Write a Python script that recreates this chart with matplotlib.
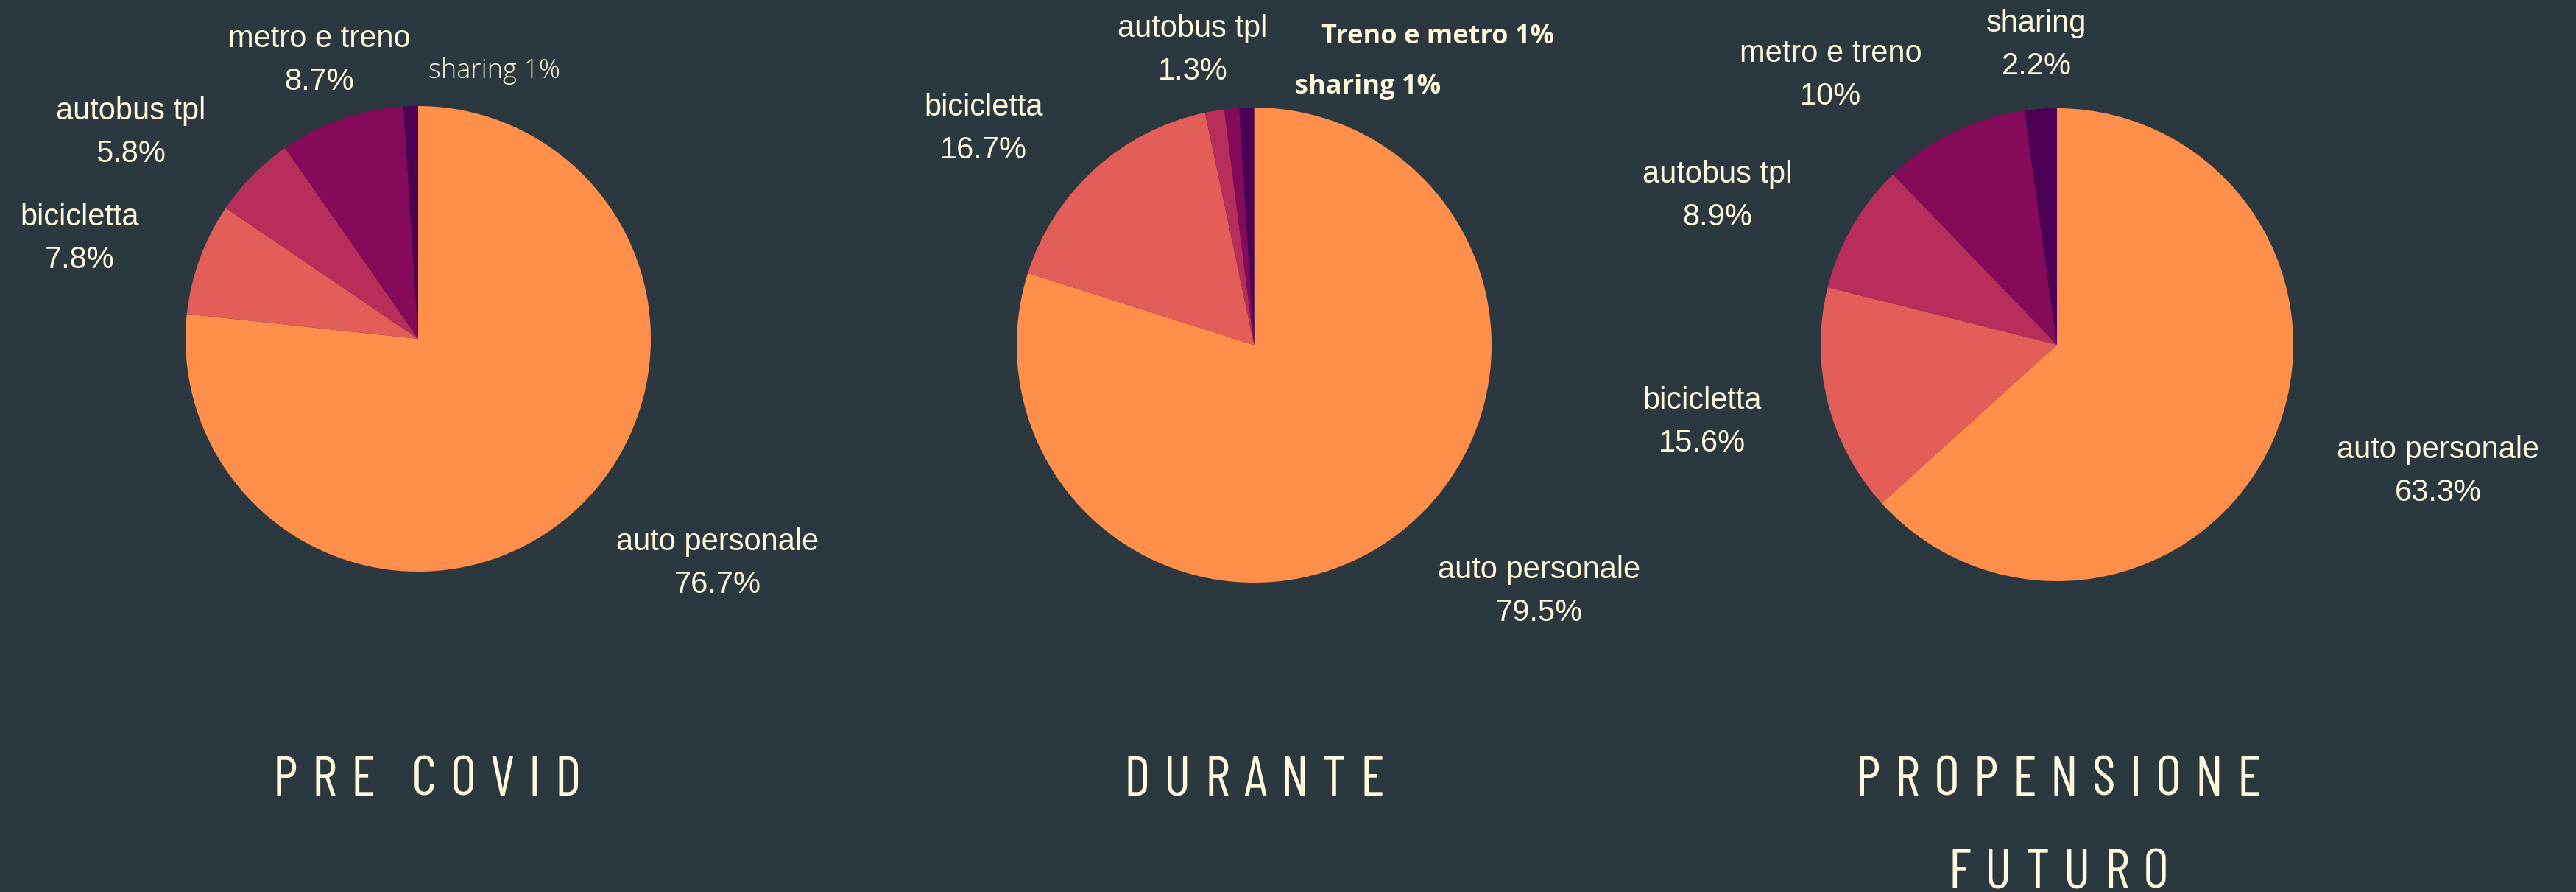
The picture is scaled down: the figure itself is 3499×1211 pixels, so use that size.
import matplotlib
matplotlib.use("Agg")
import matplotlib.pyplot as plt

# ---------------- data ----------------
categories = ["auto personale", "bicicletta", "autobus tpl", "metro e treno", "sharing"]
pre_covid = [76.7, 7.8, 5.8, 8.7, 1.0]
durante = [79.5, 16.7, 1.3, 1.0, 1.0]
futuro = [63.3, 15.6, 8.9, 10.0, 2.2]
titles = [["PRE COVID"], ["DURANTE"], ["PROPENSIONE", "FUTURO"]]

colors = ["#FF8F4A", "#E35E58", "#B82E5B", "#850A5A", "#4B0055"]
BG = "#2B3840"
TXT = "#FFF8DA"

W, H = 3499, 1211
fig = plt.figure(figsize=(W / 100, H / 100), dpi=100, facecolor=BG)
ax = fig.add_axes([0, 0, 1, 1])
ax.set_facecolor(BG)

def Y(y):
    return H - y

pies = [
    (pre_covid, (568, 460), 316),
    (durante, (1703.5, 468.5), 322.5),
    (futuro, (2794, 468), 321),
]
for vals, (cx, cy), r in pies:
    ax.pie(vals, colors=colors, startangle=90, counterclock=False,
           center=(cx, Y(cy)), radius=r, frame=True,
           wedgeprops=dict(linewidth=0))
ax.set_xlim(0, W)
ax.set_ylim(0, H)
ax.set_aspect("equal")
ax.axis("off")

LABFAM = ["Liberation Sans", "DejaVu Sans"]
LABSIZE = 30
GAP = 58

def label(name, pct, x, ybase):
    ax.text(x, Y(ybase), name, ha="center", va="baseline", color=TXT,
            fontsize=LABSIZE, family=LABFAM)
    ax.text(x, Y(ybase + GAP), pct, ha="center", va="baseline", color=TXT,
            fontsize=LABSIZE, family=LABFAM)

def fmt(v):
    return ("%g" % v) + "%"

# pie 1 (pre covid)
label(categories[3], fmt(pre_covid[3]), 434, 64)
label(categories[2], fmt(pre_covid[2]), 178, 162)
label(categories[1], fmt(pre_covid[1]), 108, 306)
label(categories[0], fmt(pre_covid[0]), 975, 747)
ax.text(671, Y(106), "sharing " + fmt(pre_covid[4]), ha="center", va="baseline",
        color=TXT, fontsize=26, family=["Open Sans", "DejaVu Sans"], fontweight="light")
# pie 2 (durante)
label(categories[2], fmt(durante[2]), 1620, 50)
label(categories[1], fmt(durante[1]), 1336, 157)
label(categories[0], fmt(durante[0]), 2091, 785)
ax.text(1953, Y(59), "Treno e metro " + fmt(durante[3]), ha="center", va="baseline",
        color=TXT, fontsize=26, family=["Open Sans", "DejaVu Sans"], fontweight="bold")
ax.text(1858, Y(127), "sharing " + fmt(durante[4]), ha="center", va="baseline",
        color=TXT, fontsize=26, family=["Open Sans", "DejaVu Sans"], fontweight="bold")
# pie 3 (futuro)
label(categories[4], fmt(futuro[4]), 2766, 43)
label(categories[3], fmt(futuro[3]), 2487, 84)
label(categories[2], fmt(futuro[2]), 2333, 248)
label(categories[1], fmt(futuro[1]), 2312, 555)
label(categories[0], fmt(futuro[0]), 3312, 622)

# titles with letter spacing
renderer = fig.canvas.get_renderer()
TFAM = ["Barlow Condensed", "Barlow Semi Condensed", "Liberation Sans Narrow", "DejaVu Sans"]
TSIZE = 55
TRACK = 19
WORDGAP = 49

def tracked(s, xc, ybase):
    widths = []
    for ch in s:
        if ch == " ":
            widths.append(None)
            continue
        t = ax.text(0, 0, ch, fontsize=TSIZE, family=TFAM, fontweight="normal")
        bb = t.get_window_extent(renderer)
        widths.append(bb.width)
        t.remove()
    total = 0
    for i, w in enumerate(widths):
        if w is None:
            total += WORDGAP
        else:
            total += w
            if i < len(widths) - 1 and widths[i + 1] is not None:
                total += TRACK
    x = xc - total / 2
    for i, (ch, w) in enumerate(zip(s, widths)):
        if w is None:
            x += WORDGAP
            continue
        ax.text(x, Y(ybase), ch, ha="left", va="baseline", fontsize=TSIZE,
                family=TFAM, fontweight="normal", color=TXT)
        x += w
        if i < len(widths) - 1 and widths[i + 1] is not None:
            x += TRACK

centers = [580, 1703, 2796]
for lines, xc in zip(titles, centers):
    for k, line in enumerate(lines):
        tracked(line, xc, 1080 + k * 126)

fig.savefig("out.png", dpi=100, facecolor=BG)
